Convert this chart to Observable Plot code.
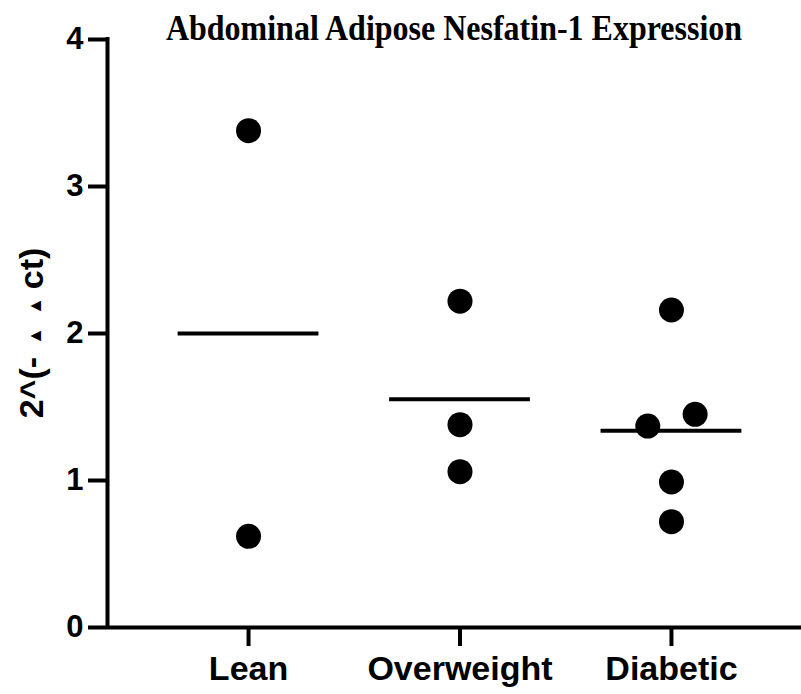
<!DOCTYPE html>
<html><head><meta charset="utf-8">
<script src="https://cdn.jsdelivr.net/npm/d3@7"></script>
<script src="https://cdn.jsdelivr.net/npm/@observablehq/plot@0.6"></script>
<style>body{margin:0;background:#fff;} #chart svg{display:block;}
#chart g[aria-label="y-axis tick"], #chart g[aria-label="x-axis tick"],
#chart g[aria-label="y-axis tick"] path, #chart g[aria-label="x-axis tick"] path {stroke-width:4px !important;}
</style>
</head><body><div id="chart"></div>
<script>
// ---- data ----
const groups = ["Lean", "Overweight", "Diabetic"];
const leanValues = [3.38, 0.62];
const overweightValues = [2.22, 1.38, 1.06];
const diabeticValues = [2.16, 1.37, 1.45, 0.99, 0.72];
const yTicks = [0, 1, 2, 3, 4];
const titleText = "Abdominal Adipose Nesfatin-1 Expression";
const yLabelParts = ["2^(-", "▲", "▲", "ct)"];

const valuesByGroup = [leanValues, overweightValues, diabeticValues];

// spread overlapping points in a group sideways (computed from the data)
const overlap = 0.17, spread = 0.112;
const rows = [];
valuesByGroup.forEach((vals, i) => {
  const items = vals.map(v => ({group: groups[i], i, value: v, offset: 0}));
  const sorted = items.slice().sort((a, b) => a.value - b.value);
  for (let k = 0; k < sorted.length - 1; k++) {
    if (sorted[k + 1].value - sorted[k].value < overlap && sorted[k].offset === 0) {
      sorted[k].offset = -spread;
      sorted[k + 1].offset = spread;
    }
  }
  rows.push(...items);
});
const means = groups.map((g, i) => ({group: g, i, mean: d3.mean(valuesByGroup[i])}));

const xMin = -0.667, xMax = 2.615;
const chart = Plot.plot({
  width: 801, height: 694,
  marginLeft: 107, marginRight: 0, marginTop: 39, marginBottom: 67,
  x: {type: "linear", domain: [xMin, xMax], axis: null},
  y: {domain: [0, 4], axis: null},
  style: {fontFamily: "'Liberation Sans', Arial, sans-serif", color: "black", background: "white"},
  marks: [
    Plot.axisY({ticks: yTicks, tickSize: 19, tickPadding: 5, tickFormat: d => String(d), label: null, strokeWidth: 4}),
    Plot.axisX({ticks: [0, 1, 2], tickFormat: i => groups[i], tickSize: 19, tickPadding: 9, label: null, strokeWidth: 4}),
    Plot.ruleX([xMin], {strokeWidth: 4, strokeLinecap: "square"}),
    Plot.ruleY([0], {strokeWidth: 4}),
    Plot.ruleY(means, {y: "mean", x1: d => d.i - 0.333, x2: d => d.i + 0.333, strokeWidth: 4}),
    Plot.dot(rows, {x: d => d.i + d.offset, y: "value", r: 12.5, fill: "black", stroke: "none"})
  ]
});
document.getElementById("chart").appendChild(chart);

const svg = d3.select(chart);
svg.selectAll('g[aria-label="y-axis tick label"]').attr("font-size", 31).attr("font-weight", "bold");
svg.selectAll('g[aria-label="x-axis tick label"]').attr("font-size", 34).attr("font-weight", "bold");

svg.append("text")
  .attr("transform", "translate(454,40) scale(1,1.15)")
  .attr("text-anchor", "middle")
  .attr("font-family", "'Liberation Serif', 'Times New Roman', serif")
  .attr("font-weight", "bold").attr("font-size", 32)
  .attr("fill", "black")
  .text(titleText);

const yl = svg.append("text")
  .attr("transform", "translate(43,333) rotate(-90)")
  .attr("text-anchor", "middle")
  .attr("font-weight", "bold").attr("font-size", 34)
  .attr("fill", "black");
yl.append("tspan").text(yLabelParts[0]);
yl.append("tspan").attr("font-size", 18).attr("dx", 12).attr("dy", -2).text(yLabelParts[1]);
yl.append("tspan").attr("font-size", 18).attr("dx", 12).text(yLabelParts[2]);
yl.append("tspan").attr("dx", 8).attr("dy", 2).text(yLabelParts[3]);
</script>
</body></html>
